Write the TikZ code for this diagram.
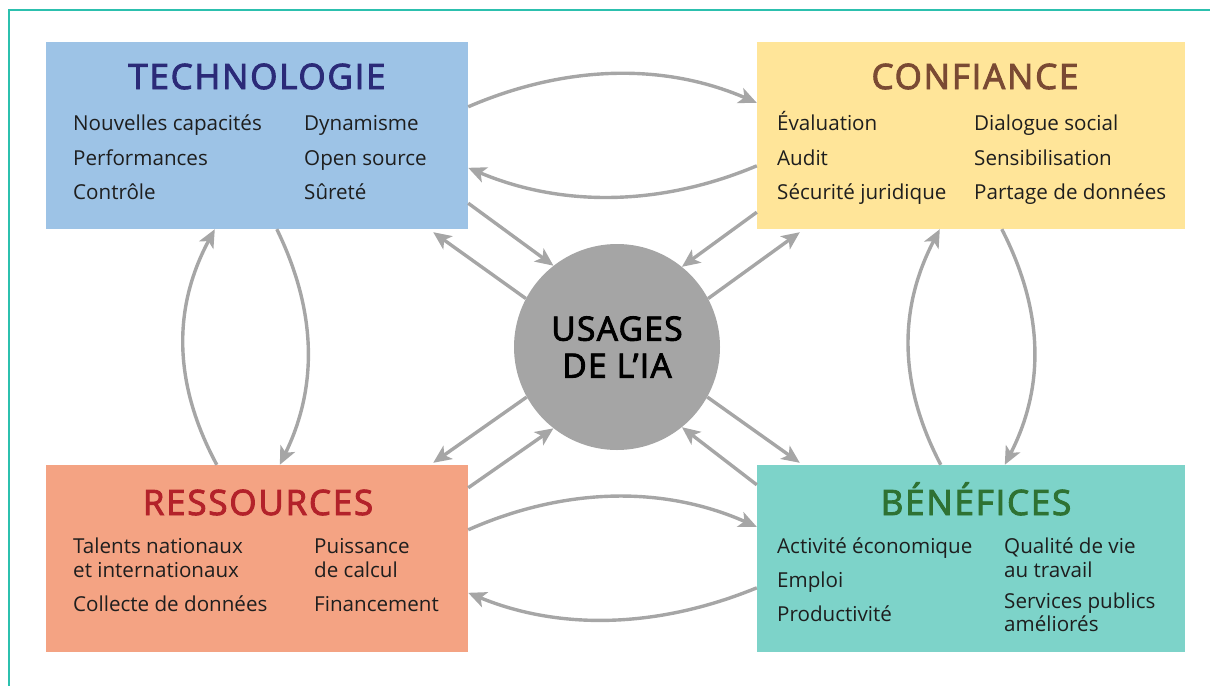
\documentclass[tikz,border=0pt]{standalone}
\usepackage{fontspec}
\setmainfont{Open Sans}
\usetikzlibrary{arrows.meta,calc}
\definecolor{techbg}{HTML}{9DC3E6}
\definecolor{confbg}{HTML}{FFE599}
\definecolor{resbg}{HTML}{F4A383}
\definecolor{benbg}{HTML}{7DD3C9}
\definecolor{techfg}{HTML}{2B2A78}
\definecolor{conffg}{HTML}{7A4A33}
\definecolor{resfg}{HTML}{B3222A}
\definecolor{benfg}{HTML}{2E7233}
\definecolor{usagebg}{HTML}{A5A5A5}
\definecolor{arrowgray}{HTML}{A6A6A6}
\definecolor{frameteal}{HTML}{2CC0AE}
\definecolor{itemfg}{HTML}{1E1E1E}
\begin{document}
\begin{tikzpicture}[x=1pt,y=-1pt,
  panel/.style={rectangle, inner sep=0pt, minimum width=#1, minimum height=187pt},
  paneltitle/.style={inner sep=0pt, anchor=base, font=\fontsize{35}{40}\selectfont\addfontfeature{LetterSpace=5,FakeBold=2.6}},
  paneltext/.style={inner sep=0pt, anchor=base west, text=itemfg, font=\fontsize{20.6}{24}\selectfont},
  flow/.style={draw=arrowgray, line width=3.4pt, -{Stealth[length=18pt,width=16pt,inset=4.5pt]}}]
\useasboundingbox (0,0) rectangle (1210,686);
\draw[frameteal, line width=1.5pt] (1210,10) -- (9,10) -- (9,686);

% panels
\node[panel=422pt, fill=techbg] (tech) at (257,135.5) {};
\node[panel=428pt, fill=confbg] (conf) at (971,135.5) {};
\node[panel=422pt, fill=resbg] (res) at (257,558.5) {};
\node[panel=428pt, fill=benbg] (ben) at (971,558.5) {};

% centre
\node[circle, fill=usagebg, minimum size=206pt, inner sep=0pt, align=center,
  font=\fontsize{33.5}{37}\selectfont\addfontfeature{LetterSpace=4,FakeBold=2.6}] (usage) at (617,347) {USAGES\\DE L’IA};

% titles
\node[paneltitle, text=techfg] (techT) at (257,89) {TECHNOLOGIE};
\node[paneltitle, text=conffg] (confT) at (975,89) {CONFIANCE};
\node[paneltitle, text=resfg] (resT) at (258,515) {RESSOURCES};
\node[paneltitle, text=benfg] (benT) at (976,515) {BÉNÉFICES};

% technologie
\node[paneltext] (techA) at (73,130) {Nouvelles capacités};
\node[paneltext] (techB) at (73,165) {Performances};
\node[paneltext] (techC) at (73,199) {Contrôle};
\node[paneltext] (techD) at (304,130) {Dynamisme};
\node[paneltext] (techE) at (304,165) {Open source};
\node[paneltext] (techF) at (304,199) {Sûreté};

% confiance
\node[paneltext] (confA) at (777,130) {Évaluation};
\node[paneltext] (confB) at (777,165) {Audit};
\node[paneltext] (confC) at (777,199) {Sécurité juridique};
\node[paneltext] (confD) at (974,130) {Dialogue social};
\node[paneltext] (confE) at (974,165) {Sensibilisation};
\node[paneltext] (confF) at (974,199) {Partage de données};

% ressources
\node[paneltext] (resA1) at (73,553) {Talents nationaux};
\node[paneltext] (resA2) at (73,577) {et internationaux};
\node[paneltext] (resB) at (73,611) {Collecte de données};
\node[paneltext] (resC1) at (314,553) {Puissance};
\node[paneltext] (resC2) at (314,577) {de calcul};
\node[paneltext] (resD) at (314,611) {Financement};

% benefices
\node[paneltext] (benA) at (777,553) {Activité économique};
\node[paneltext] (benB) at (777,587) {Emploi};
\node[paneltext] (benC) at (777,621) {Productivité};
\node[paneltext] (benD1) at (1004,553) {Qualité de vie};
\node[paneltext] (benD2) at (1004,577) {au travail};
\node[paneltext] (benE1) at (1004,608) {Services publics};
\node[paneltext] (benE2) at (1004,631) {améliorés};

% horizontal loops
\draw[flow] ($(tech.north east)+(0,65)$) .. controls +(95,-41) and +(-95,-41) .. ($(conf.north west)+(0,61)$);
\draw[flow] ($(conf.north west)+(0,124)$) .. controls +(-95,40) and +(95,40) .. ($(tech.north east)+(0,126)$);
\draw[flow] ($(res.north east)+(0,65)$) .. controls +(95,-42) and +(-95,-42) .. ($(ben.north west)+(0,62)$);
\draw[flow] ($(ben.north west)+(0,123)$) .. controls +(-95,39) and +(95,39) .. ($(res.north east)+(0,128)$);

% vertical loops
\draw[flow] ($(res.north west)+(171,0)$) .. controls +(-43,-80) and +(-43,80) .. ($(tech.south west)+(169,0)$);
\draw[flow] ($(tech.south west)+(231,0)$) .. controls +(39,80) and +(39,-80) .. ($(res.north west)+(234,0)$);
\draw[flow] ($(ben.north west)+(184,0)$) .. controls +(-42,-80) and +(-42,80) .. ($(conf.south west)+(183,0)$);
\draw[flow] ($(conf.south west)+(245,0)$) .. controls +(41,80) and +(41,-80) .. ($(ben.north west)+(248,0)$);

% diagonals
\draw[flow] ($(tech.south east)+(0,-26)$) -- (usage.128);
\draw[flow] (usage.152) -- ($(tech.south east)+(-35,3)$);
\draw[flow] ($(conf.south west)+(0,-17)$) -- (usage.51);
\draw[flow] (usage.28) -- ($(conf.south west)+(43,3)$);
\draw[flow] (usage.209) -- ($(res.north east)+(-35,-2)$);
\draw[flow] ($(res.north east)+(0,23)$) -- (usage.232);
\draw[flow] (usage.331) -- ($(ben.north west)+(43,-2)$);
\draw[flow] ($(ben.north west)+(0,20)$) -- (usage.309);
\end{tikzpicture}
\end{document}
